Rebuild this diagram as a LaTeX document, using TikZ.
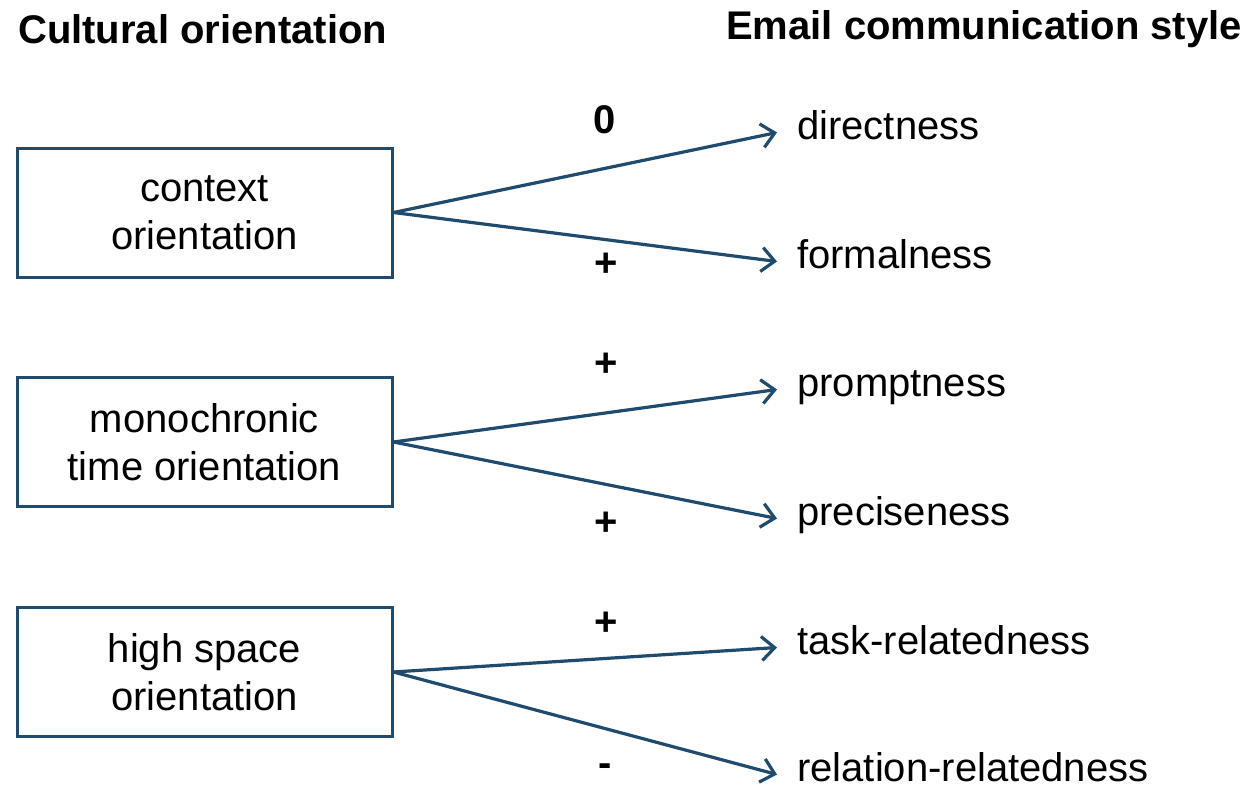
\documentclass[tikz,border=0pt]{standalone}
\usepackage{fontspec}
\setmainfont{Liberation Sans}
\usetikzlibrary{arrows.meta}
\definecolor{lineblue}{RGB}{30,75,110}
\begin{document}
\begin{tikzpicture}[x=1pt,y=-1pt,
  every node/.style={font=\fontsize{40}{48}\selectfont, inner sep=0pt},
  title/.style={anchor=base west, font=\fontsize{40}{48}\selectfont\bfseries},
  orient/.style={draw=lineblue, line width=3pt, minimum width=375pt, minimum height=129pt, align=center, fill=white},
  style/.style={anchor=base west, inner xsep=20pt, text height=13pt, text depth=0pt},
  sign/.style={font=\fontsize{40}{48}\selectfont\bfseries},
  link/.style={draw=lineblue, line width=3.2pt, -{Straight Barb[length=13pt, width=24pt, line width=3.2pt]}}
]
\useasboundingbox[fill=white] (0,0) rectangle (1250,787);

\node[title] (t1) at (18,43) {Cultural orientation};
\node[title] (t2) at (726,39) {Email communication style};

\node[orient] (b1) at (204.5,212.5) {context\\orientation};
\node[orient] (b2) at (204.5,442) {monochronic\\time orientation};
\node[orient] (b3) at (204.5,672) {high space\\orientation};

\node[style] (s1) at (777,139) {directness};
\node[style] (s2) at (777,268) {formalness};
\node[style] (s3) at (777,396) {promptness};
\node[style] (s4) at (777,525) {preciseness};
\node[style] (s5) at (777,654) {task-relatedness};
\node[style] (s6) at (777,781) {relation-relatedness};

\draw[link] (b1.east) -- (s1.west);
\draw[link] (b1.east) -- (s2.west);
\draw[link] (b2.east) -- (s3.west);
\draw[link] (b2.east) -- (s4.west);
\draw[link] (b3.east) -- (s5.west);
\draw[link] (b3.east) -- (s6.west);

\node[sign] (g1) at (605,120) {0};
\node[sign] (g2) at (606,265) {+};
\node[sign] (g3) at (606,365) {+};
\node[sign] (g4) at (606,524) {+};
\node[sign] (g5) at (606,624) {+};
\node[sign] (g6) at (605,770) {-};
\end{tikzpicture}
\end{document}
